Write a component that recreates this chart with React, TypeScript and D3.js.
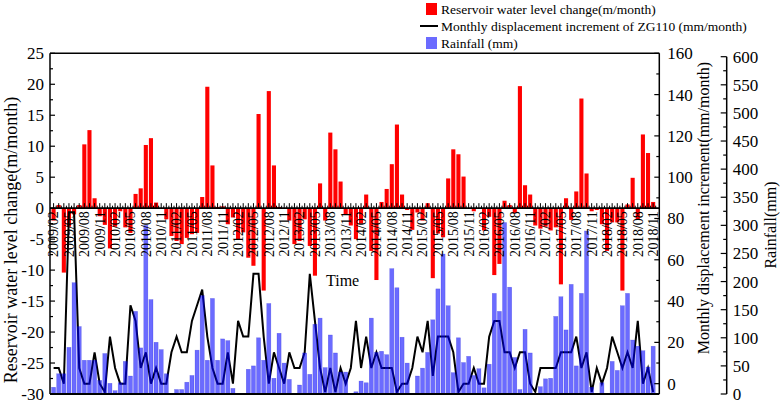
import React from "react";
import * as d3 from "d3";

// months 2009/02 .. 2018/11
const months = d3.timeMonth.range(new Date(2009, 1, 1), new Date(2018, 11, 1));

const tickLabels = [
  "2009/02", "2009/05", "2009/08", "2009/11",
  "2010/02", "2010/05", "2010/08", "2010/11",
  "2011/02", "2011/05", "2011/08", "2011/11",
  "2012/02", "2012/05", "2012/08", "2012/11",
  "2013/02", "2013/05", "2013/08", "2013/11",
  "2014/02", "2014/05", "2014/08", "2014/11",
  "2015/02", "2015/05", "2015/08", "2015/11",
  "2016/02", "2016/05", "2016/08", "2016/11",
  "2017/02", "2017/05", "2017/08", "2017/11",
  "2018/02", "2018/05", "2018/08", "2018/11",
];

// reservoir water level change (m/month)
const reservoir = [
  -2.0, 0.5, -10.4, -3.0, -1.0, 0.5, 10.3, 12.6, 1.6, -1.3, -2.7, -6.5,
  -3.0, -0.5, -3.1, -4.0, 2.3, 3.2, 10.2, 11.3, 0.9, 0, -1.8, -4.5,
  -5.3, -5.8, -4.8, -4.2, -4.0, 1.8, 19.6, 6.9, 0.2, 0.3, -2.6, -1.5,
  -5.0, -3.9, -8.0, -9.3, 15.2, -13.3, 18.9, 6.9, 0.2, 0, -2.0, -5.8,
  -5.3, -1.8, -6.1, -10.9, 4.0, -2.0, 12.2, 9.5, 4.3, -1.1, -2.8, -5.0,
  -2.5, 2.2, -6.9, -11.6, 1.0, 3.1, 7.1, 13.5, 2.2, -0.3, -3.5, -0.7,
  -2.0, 0.8, -11.3, -4.1, -4.7, 4.8, 9.5, 8.7, 5.1, 0, -0.5, 0,
  -3.6, -1.4, -10.8, -9.0, 1.2, 0.5, -0.8, 19.7, 3.7, 2.2, -2.8, -3.3,
  -3.0, -3.6, -3.1, -12.3, 1.6, -1.9, 2.7, 17.7, 5.6, -0.5, -0.3, -2.6,
  -6.9, -2.3, -2.3, -13.3, 0.6, 4.9, -1.8, 11.9, 8.9, 1.0,
];

// monthly displacement increment of ZG110 (mm/month)
const displacement = [
  7.6, 7.6, 0, 83, 83, 7.6, 0, 0, 15.2, 0, -4, 22.8,
  7.6, 0, 0, 38, 30.4, 7.6, 15.2, 0, 7.6, 0, 0, 15.2,
  22.8, 15.2, 15.2, 30.4, 38, 45.6, 22.8, 7.6, 0, 0, 15.2, 0,
  30.4, 22.8, 22.8, 53.2, 53.2, 22.8, 0, 15.2, 7.6, 0, 15.2, 7.6,
  7.6, 15.2, 53.2, 30.4, 7.6, -4, 7.6, -4, 7.6, 0, 7.6, 30.4,
  7.6, 22.8, 7.6, 15.2, 7.6, 7.6, 7.6, -4, 0, 0, 7.6, 22.8,
  15.2, 30.4, 3.8, 22.8, 22.8, 22.8, 15.2, -4, 0, 0, 7.6, 0,
  0, 22.8, 30.4, 30.4, 15.2, 15.2, 7.6, 15.2, 15.2, 0, -4, 7.6,
  7.6, 7.6, 7.6, 15.2, 15.2, 15.2, 22.8, 7.6, 15.2, -4, 7.6, 0,
  7.6, 22.8, 15.2, 7.6, 15.2, 7.6, 30.4, 0, 7.6, -4,
];

// rainfall (mm)
const rainfall = [
  12, 36, 36, 83, 198, 120, 60, 60, 60, 24, 72, 19,
  6, 20, 58, 32, 147, 82, 300, 168, 92, 79, 36, 0,
  8, 8, 21, 33, 78, 175, 60, 170, 60, 98, 95, 10,
  0, 0, 44, 50, 100, 60, 161, 28, 108, 55, 26, 0,
  16, 73, 35, 124, 135, 47, 105, 73, 39, 39, 0, 4,
  23, 20, 135, 74, 76, 70, 223, 189, 101, 55, 0, 32,
  46, 74, 132, 187, 249, 157, 38, 100, 56, 67, 33, 45,
  11, 53, 179, 147, 305, 190, 65, 8, 115, 73, 0, 13,
  27, 28, 138, 173, 114, 195, 50, 179, 290, 12, 0, 20,
  0, 58, 42, 157, 179, 96, 85, 77, 48, 85,
];

const W = 782;
const H = 403;
const L = 50;
const R = 659.3;
const T = 53.3;
const B = 394;
const R2 = 726.7;
const FONT = "'Liberation Serif', 'Times New Roman', serif";

const x = d3.scaleLinear().domain([-0.7, 118.2]).range([L, R]);
const yLevel = d3.scaleLinear().domain([-30, 25]).range([B, T]);
const yDisp = d3.scaleLinear().domain([-5, 160]).range([B, T]);
const yRain = d3.scaleLinear().domain([0, 600]).range([B, 56.7]);

const barW = 4.1;

const App: React.FC = () => {
  const y0 = yLevel(0);
  const line = d3
    .line<number>()
    .x((_, i) => x(i))
    .y((d) => yDisp(d));

  const levelTicks = d3.range(-30, 25.1, 5);
  const levelMinor = d3.range(-27.5, 25, 5);
  const dispTicks = d3.range(0, 160.1, 20);
  const dispMinor = d3.range(10, 160, 20);
  const rainTicks = d3.range(0, 600.1, 50);
  const rainMinor = d3.range(25, 600, 50);
  const monthIdx = months.map((_, i) => i);

  return (
    <svg
      width={W}
      height={H}
      style={{ position: "absolute", left: 0, top: 0, background: "#fff" }}
      fontFamily={FONT}
    >
      {/* reservoir bars */}
      <g fill="#ff0000">
        {reservoir.map((v, i) => (
          <rect
            key={i}
            x={x(i) - barW / 2}
            y={Math.min(yLevel(v), y0)}
            width={barW}
            height={Math.abs(yLevel(v) - y0)}
          />
        ))}
      </g>

      {/* displacement line */}
      <path d={line(displacement) || ""} fill="none" stroke="#000" strokeWidth={2} />

      {/* rainfall bars */}
      <g fill="rgba(0,0,255,0.58)" stroke="rgba(0,0,200,0.35)" strokeWidth={0.5}>
        {rainfall.map((v, i) =>
          v > 0 ? (
            <rect
              key={i}
              x={x(i) - barW / 2}
              y={yRain(v)}
              width={barW}
              height={B - yRain(v)}
            />
          ) : null
        )}
      </g>

      {/* x axis at zero */}
      <line x1={L} x2={R} y1={y0} y2={y0} stroke="#000" strokeWidth={1.8} />
      {monthIdx.map((i) => (
        <line key={"mt" + i} x1={x(i)} x2={x(i)} y1={y0} y2={y0 - 5} stroke="#000" strokeWidth={1} />
      ))}
      {monthIdx.map((i) => (
        <line key={"mh" + i} x1={x(i + 0.5)} x2={x(i + 0.5)} y1={y0} y2={y0 - 2.5} stroke="#000" strokeWidth={1} />
      ))}
      {tickLabels.map((t, k) => (
        <text
          key={t}
          transform={`translate(${x(k * 3)},${y0 + 3}) rotate(-90)`}
          textAnchor="end"
          dy="0.35em"
          fontSize={14}
        >
          {t}
        </text>
      ))}
      <text x={326} y={286} fontSize={16}>Time</text>

      {/* frame */}
      <line x1={L} x2={R} y1={T} y2={T} stroke="#000" strokeWidth={1.5} />
      <line x1={L} x2={R} y1={B} y2={B} stroke="#000" strokeWidth={2.2} />
      <line x1={L} x2={L} y1={T} y2={B} stroke="#000" strokeWidth={1.5} />
      <line x1={R} x2={R} y1={T} y2={B} stroke="#000" strokeWidth={1.5} />

      {/* left axis */}
      {levelTicks.map((v) => (
        <g key={"l" + v}>
          <line x1={L} x2={L + 5} y1={yLevel(v)} y2={yLevel(v)} stroke="#000" strokeWidth={1.2} />
          <text x={44} y={yLevel(v)} dy="0.35em" textAnchor="end" fontSize={17}>
            {v}
          </text>
        </g>
      ))}
      {levelMinor.map((v) => (
        <line key={"lm" + v} x1={L} x2={L + 3} y1={yLevel(v)} y2={yLevel(v)} stroke="#000" strokeWidth={1.2} />
      ))}
      <text
        transform={`translate(17,240) rotate(-90)`}
        textAnchor="middle"
        fontSize={18}
      >
        Reservoir water level change(m/month)
      </text>

      {/* displacement axis */}
      {dispTicks.map((v) => (
        <g key={"d" + v}>
          <line x1={R} x2={R - 5} y1={yDisp(v)} y2={yDisp(v)} stroke="#000" strokeWidth={1.2} />
          <text x={R + 8} y={yDisp(v)} dy="0.35em" fontSize={17}>
            {v}
          </text>
        </g>
      ))}
      {dispMinor.map((v) => (
        <line key={"dm" + v} x1={R} x2={R - 3} y1={yDisp(v)} y2={yDisp(v)} stroke="#000" strokeWidth={1.2} />
      ))}
      <text
        transform={`translate(709,208) rotate(-90)`}
        textAnchor="middle"
        fontSize={16}
      >
        Monthly displacement increment(mm/month)
      </text>

      {/* rainfall axis */}
      <line x1={R2} x2={R2} y1={yRain(600)} y2={B} stroke="#000" strokeWidth={1.5} />
      {rainTicks.map((v) => (
        <g key={"r" + v}>
          <line x1={R2} x2={R2 - 6} y1={yRain(v)} y2={yRain(v)} stroke="#000" strokeWidth={1.2} />
          <text x={R2 + 6} y={yRain(v)} dy="0.35em" fontSize={17}>
            {v}
          </text>
        </g>
      ))}
      {rainMinor.map((v) => (
        <line key={"rm" + v} x1={R2} x2={R2 - 3.5} y1={yRain(v)} y2={yRain(v)} stroke="#000" strokeWidth={1.2} />
      ))}
      <text
        transform={`translate(776,225) rotate(-90)`}
        textAnchor="middle"
        fontSize={16}
      >
        Rainfall(mm)
      </text>

      {/* legend */}
      <g fontSize={13.5}>
        <rect x={426} y={3} width={11} height={12} fill="#ff0000" />
        <text x={441} y={14}>Reservoir water level change(m/month)</text>
        <line x1={420} x2={438} y1={26} y2={26} stroke="#000" strokeWidth={2} />
        <text x={441} y={31}>Monthly displacement increment of ZG110 (mm/month)</text>
        <rect x={426} y={37} width={11} height={12} fill="rgba(0,0,255,0.58)" />
        <text x={441} y={48}>Rainfall (mm)</text>
      </g>
    </svg>
  );
};

export default App;
